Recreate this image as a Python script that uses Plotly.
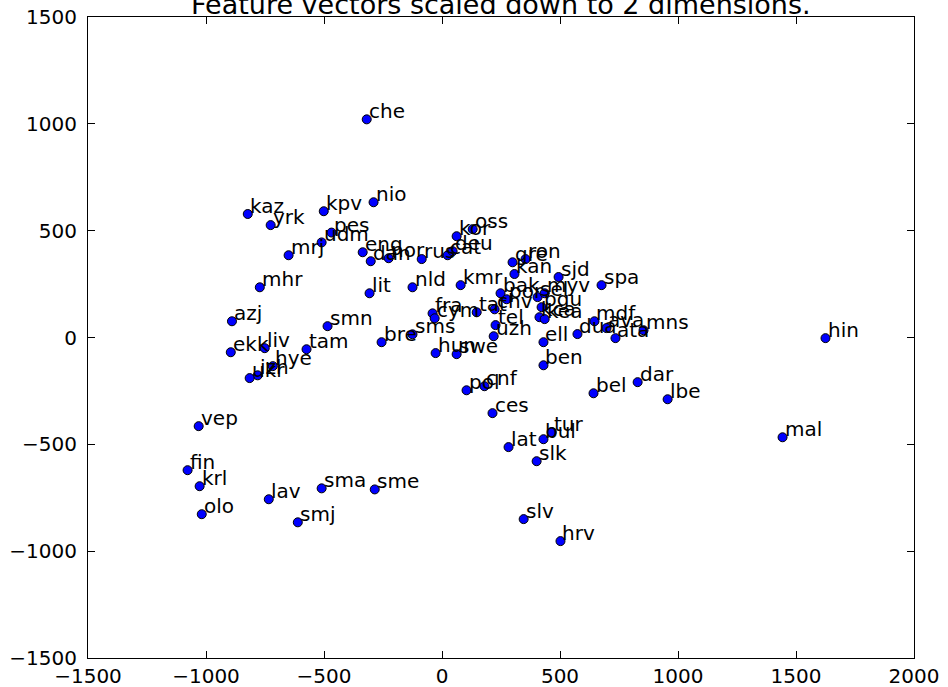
import plotly.graph_objects as go

labels = ["che", "kaz", "yrk", "kpv", "nio", "pes", "udm", "mrj", "mhr", "eng",
          "dan", "nor", "rus", "cat", "deu", "kor", "oss", "lit", "nld", "kmr",
          "gre", "ron", "kan", "sjd", "spa", "bak", "por", "sel", "myv", "pgu",
          "kca", "kea", "fra", "cym", "tat", "chv", "tel", "uzh", "ell", "ben",
          "dua", "mdf", "ava", "ata", "mns", "hin", "mal", "lbe", "dar", "bel",
          "sms", "bre", "smn", "tam", "azj", "ekk", "liv", "hye", "izh", "ukr",
          "hun", "swe", "pol", "cnf", "ces", "lat", "bul", "tur", "slk", "slv",
          "hrv", "vep", "fin", "krl", "olo", "lav", "smj", "sma", "sme"]

x_vals = [-319, -823, -726, -501, -290, -468, -510, -650, -772, -336,
          -302, -226, -86, 24, 45, 62, 130, -307, -125, 79,
          299, 354, 307, 494, 676, 248, 274, 405, 435, 422,
          413, 435, -40, -31, 147, 223, 227, 219, 430, 430,
          574, 646, 697, 735, 854, 1625, 1443, 956, 829, 642,
          -125, -256, -485, -574, -890, -895, -751, -717, -781, -815,
          -27, 62, 104, 180, 214, 282, 430, 464, 401, 346,
          502, -1031, -1078, -1027, -1018, -734, -611, -510, -285]

y_vals = [1021, 578, 526, 591, 633, 491, 445, 385, 235, 399,
          357, 371, 367, 385, 404, 474, 507, 207, 235, 245,
          352, 367, 297, 283, 245, 207, 179, 189, 207, 142,
          95, 86, 113, 90, 118, 132, 58, 6, -22, -130,
          16, 76, 44, -3, 34, -3, -467, -289, -209, -261,
          15, -22, 53, -55, 76, -69, -50, -134, -177, -190,
          -73, -78, -247, -228, -354, -513, -476, -443, -579, -850,
          -953, -415, -621, -696, -827, -757, -865, -706, -711]

tick_vals_x = [-1500, -1000, -500, 0, 500, 1000, 1500, 2000]
tick_vals_y = [-1500, -1000, -500, 0, 500, 1000, 1500]
title_text = "Feature vectors scaled down to 2 dimensions."

FONT = "DejaVu Sans"

fig = go.Figure()
fig.add_trace(go.Scatter(
    x=x_vals, y=y_vals, mode="markers",
    marker=dict(color="#0000ff", size=9, line=dict(color="black", width=1)),
    hoverinfo="text", text=labels, showlegend=False, cliponaxis=False,
))

annotations = []
for lab, xv, yv in zip(labels, x_vals, y_vals):
    annotations.append(dict(
        x=xv, y=yv, xref="x", yref="y", text=lab, showarrow=False,
        xanchor="left", yanchor="bottom", xshift=1, yshift=-5, borderpad=0,
        font=dict(family=FONT, size=20, color="black"),
    ))
annotations.append(dict(
    x=0.5, y=1, xref="paper", yref="paper", text=title_text, showarrow=False,
    xanchor="center", yanchor="bottom", yshift=-4, borderpad=0,
    font=dict(family=FONT, size=27, color="black"),
))

axis_common = dict(
    showgrid=False, zeroline=False, showline=True, linecolor="black",
    linewidth=1, mirror="ticks", ticks="inside", ticklen=7, tickwidth=1,
    tickcolor="black", tickfont=dict(family=FONT, size=20, color="black"),
    automargin=False,
)

fig.update_layout(
    width=948, height=687,
    margin=dict(l=88, r=34, t=17, b=29, autoexpand=False),
    paper_bgcolor="white", plot_bgcolor="white",
    annotations=annotations,
    xaxis=dict(range=[-1500, 2000], tickvals=tick_vals_x,
               ticktext=[str(v).replace("-", "\u2212") for v in tick_vals_x],
               **axis_common),
    yaxis=dict(range=[-1500, 1500], tickvals=tick_vals_y,
               ticktext=[str(v).replace("-", "\u2212") for v in tick_vals_y],
               ticklabelstandoff=6, **axis_common),
    font=dict(family=FONT),
)

fig.write_html("out.html")
